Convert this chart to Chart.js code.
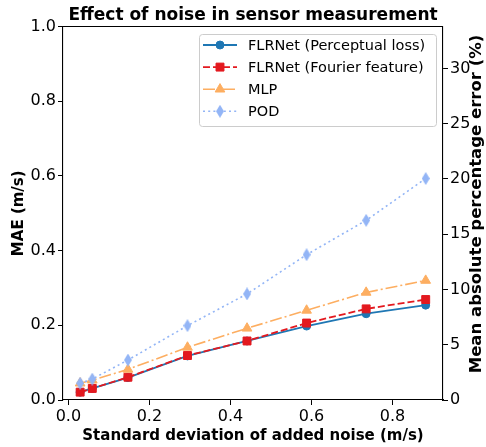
<!DOCTYPE html>
<html>
<head>
<meta charset="utf-8">
<script src="https://cdn.jsdelivr.net/npm/chart.js@4.4.0/dist/chart.umd.min.js"></script>
<style>
  html, body { margin: 0; padding: 0; background: #fff; }
</style>
</head>
<body>
<canvas id="noiseChart" width="486" height="447"></canvas>
<script>
// Values
const noiseStd = [0.029, 0.059, 0.147, 0.294, 0.441, 0.588, 0.735, 0.882];
const flrPerceptual = [0.021, 0.031, 0.060, 0.118, 0.158, 0.198, 0.231, 0.254];
const flrFourier = [0.021, 0.031, 0.061, 0.119, 0.158, 0.206, 0.244, 0.269];
const mlp = [0.045, 0.053, 0.082, 0.141, 0.192, 0.240, 0.288, 0.320];
const pod = [0.045, 0.056, 0.107, 0.199, 0.284, 0.389, 0.481, 0.593];

const seriesLabels = ['FLRNet (Perceptual loss)', 'FLRNet (Fourier feature)', 'MLP', 'POD'];

const xTicks = [0, 0.2, 0.4, 0.6, 0.8];
const xTickLabels = ['0.0', '0.2', '0.4', '0.6', '0.8'];
const yTicks = [0, 0.2, 0.4, 0.6, 0.8, 1.0];
const yTickLabels = ['0.0', '0.2', '0.4', '0.6', '0.8', '1.0'];
const pctTicks = [0, 5, 10, 15, 20, 25, 30];
const pctTickLabels = ['0', '5', '10', '15', '20', '25', '30'];

const FONT = 'DejaVu Sans';
Chart.defaults.font.family = FONT;
Chart.defaults.color = '#000';

// thin diamond marker (matplotlib 'd')
function thinDiamond(color, w, h) {
    const c = document.createElement('canvas');
    c.width = w; c.height = h;
    const g = c.getContext('2d');
    g.fillStyle = color;
    g.beginPath();
    g.moveTo(w / 2, 0);
    g.lineTo(w, h / 2);
    g.lineTo(w / 2, h);
    g.lineTo(0, h / 2);
    g.closePath();
    g.fill();
    return c;
}

const podColor = '#93b5f6';
const styles = [
    { color: '#1f77b4', dash: [], width: 1.8, point: 'circle', radius: 4, order: 4 },
    { color: '#e3191f', dash: [7, 3], width: 1.8, point: 'rect', radius: 5.6, order: 3 },
    { color: '#fdae61', dash: [12, 3, 2, 3], width: 1.6, point: 'triangle', radius: 5.6, order: 2 },
    { color: podColor, dash: [2, 3.2], width: 1.6, point: thinDiamond(podColor, 8, 13), radius: 6, order: 1 }
];
const seriesValues = [flrPerceptual, flrFourier, mlp, pod];

const datasets = seriesValues.map((vals, i) => ({
    label: seriesLabels[i],
    data: vals.map((v, k) => ({ x: noiseStd[k], y: v })),
    borderColor: styles[i].color,
    backgroundColor: styles[i].color,
    borderWidth: styles[i].width,
    borderDash: styles[i].dash,
    pointStyle: styles[i].point,
    pointRadius: styles[i].radius,
    pointBorderWidth: 1,
    pointBackgroundColor: styles[i].color,
    pointBorderColor: styles[i].color,
    tension: 0,
    order: styles[i].order,
    yAxisID: 'y'
}));

function setTicks(list) {
    return scale => { scale.ticks = list.map(v => ({ value: v })); };
}

const axisGrid = {
    drawOnChartArea: false,
    drawTicks: true,
    tickLength: 5,
    tickWidth: 1,
    tickColor: '#000'
};
const axisBorder = { display: true, color: '#000', width: 1.1 };

const decorPlugin = {
    id: 'decor',
    afterDraw(chart) {
        const ctx = chart.ctx;
        const a = chart.chartArea;
        ctx.save();

        // top spine
        ctx.strokeStyle = '#000';
        ctx.lineWidth = 1.1;
        ctx.beginPath();
        ctx.moveTo(a.left, a.top);
        ctx.lineTo(a.right, a.top);
        ctx.stroke();

        // title
        ctx.fillStyle = '#000';
        ctx.font = 'bold 17px ' + FONT;
        ctx.textAlign = 'center';
        ctx.textBaseline = 'alphabetic';
        ctx.fillText('Effect of noise in sensor measurement', (a.left + a.right) / 2, 20);

        // right axis title, reads bottom to top
        ctx.save();
        ctx.translate(477, 204);
        ctx.rotate(-Math.PI / 2);
        ctx.font = 'bold 16.5px ' + FONT;
        ctx.textBaseline = 'middle';
        ctx.fillText('Mean absolute percentage error (%)', 0, 0);
        ctx.restore();

        // legend
        const bx = 199, by = 34, bw = 237, bh = 92;
        ctx.fillStyle = 'rgba(255,255,255,0.8)';
        ctx.strokeStyle = '#cccccc';
        ctx.lineWidth = 1;
        ctx.beginPath();
        ctx.roundRect(bx + 0.5, by + 0.5, bw, bh, 3);
        ctx.fill();
        ctx.stroke();

        ctx.font = '14.5px ' + FONT;
        ctx.textAlign = 'left';
        ctx.textBaseline = 'middle';
        seriesLabels.forEach((lab, i) => {
            const s = styles[i];
            const y = 45 + i * 22.1;
            ctx.strokeStyle = s.color;
            ctx.lineWidth = s.width;
            ctx.setLineDash(s.dash);
            ctx.beginPath();
            ctx.moveTo(203, y);
            ctx.lineTo(237, y);
            ctx.stroke();
            ctx.setLineDash([]);
            ctx.fillStyle = s.color;
            ctx.strokeStyle = s.color;
            ctx.lineWidth = 1;
            Chart.helpers.drawPoint(ctx, {
                pointStyle: s.point, radius: s.radius, rotation: 0, borderWidth: 1
            }, 220, y);
            ctx.fillStyle = '#000';
            ctx.fillText(lab, 248, y + 1);
        });
        ctx.restore();
    }
};

new Chart(document.getElementById('noiseChart'), {
    type: 'line',
    data: { datasets },
    plugins: [decorPlugin],
    options: {
        responsive: false,
        animation: false,
        layout: { padding: { top: 26.5, left: 0, right: 0, bottom: 0 } },
        plugins: {
            legend: { display: false },
            tooltip: { enabled: false }
        },
        scales: {
            x: {
                type: 'linear',
                position: 'bottom',
                min: -0.0133,
                max: 0.9247,
                afterBuildTicks: setTicks(xTicks),
                afterFit: s => { s.height = 47; },
                grid: axisGrid,
                border: axisBorder,
                ticks: {
                    autoSkip: false,
                    maxRotation: 0,
                    padding: 2,
                    font: { size: 16 },
                    color: '#000',
                    callback: (v, i) => xTickLabels[i]
                },
                title: {
                    display: true,
                    text: 'Standard deviation of added noise (m/s)',
                    font: { size: 15, weight: 'bold' },
                    color: '#000',
                    padding: { top: 0, bottom: 2 }
                }
            },
            y: {
                type: 'linear',
                position: 'left',
                min: 0,
                max: 1,
                afterBuildTicks: setTicks(yTicks),
                afterFit: s => { s.width = 63; },
                grid: axisGrid,
                border: axisBorder,
                ticks: {
                    autoSkip: false,
                    padding: 2,
                    font: { size: 16 },
                    color: '#000',
                    callback: (v, i) => yTickLabels[i]
                },
                title: {
                    display: true,
                    text: 'MAE (m/s)',
                    font: { size: 15, weight: 'bold' },
                    color: '#000',
                    padding: { top: 10, bottom: 0 }
                }
            },
            pct: {
                type: 'linear',
                position: 'right',
                min: 0,
                max: 33.8,
                afterBuildTicks: setTicks(pctTicks),
                afterFit: s => { s.width = 43; },
                grid: axisGrid,
                border: axisBorder,
                ticks: {
                    autoSkip: false,
                    padding: 2,
                    font: { size: 16 },
                    color: '#000',
                    callback: (v, i) => pctTickLabels[i]
                },
                title: { display: false }
            }
        }
    }
});
</script>
</body>
</html>
